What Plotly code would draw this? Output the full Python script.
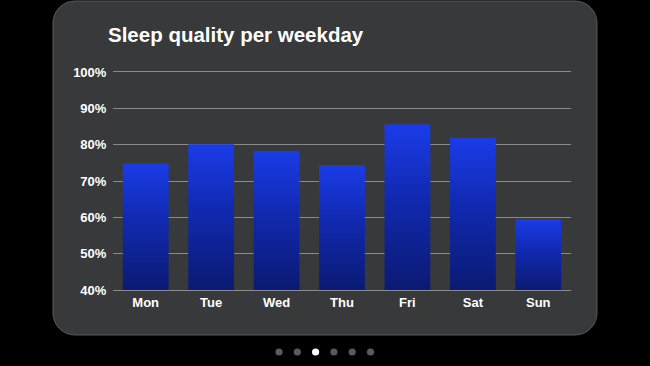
import plotly.graph_objects as go

# ---- data ----
days = ["Mon", "Tue", "Wed", "Thu", "Fri", "Sat", "Sun"]
quality = [74.8, 80.1, 78.3, 74.4, 85.6, 81.9, 59.5]
y_ticks = [40, 50, 60, 70, 80, 90, 100]
y_tick_labels = [f"{t}%" for t in y_ticks]
pages = 6
active_page = 2

# ---- layout geometry (pixels) ----
W, H = 650, 366
L, R, T, B = 113, 79, 72, 76
PW, PH = W - L - R, H - T - B

def px(x):
    return (x - L) / PW

def py(y):
    return (H - B - y) / PH

def rounded_rect(x0, y0, x1, y1, r):
    k = 0.5523 * r
    pts = [
        f"M {px(x0 + r)} {py(y0)}",
        f"L {px(x1 - r)} {py(y0)}",
        f"C {px(x1 - r + k)} {py(y0)} {px(x1)} {py(y0 + r - k)} {px(x1)} {py(y0 + r)}",
        f"L {px(x1)} {py(y1 - r)}",
        f"C {px(x1)} {py(y1 - r + k)} {px(x1 - r + k)} {py(y1)} {px(x1 - r)} {py(y1)}",
        f"L {px(x0 + r)} {py(y1)}",
        f"C {px(x0 + r - k)} {py(y1)} {px(x0)} {py(y1 - r + k)} {px(x0)} {py(y1 - r)}",
        f"L {px(x0)} {py(y0 + r)}",
        f"C {px(x0)} {py(y0 + r - k)} {px(x0 + r - k)} {py(y0)} {px(x0 + r)} {py(y0)}",
        "Z",
    ]
    return " ".join(pts)

font_family = "Liberation Sans, Arial, Helvetica, sans-serif"

fig = go.Figure()

bar_w = 0.7
base = y_ticks[0]
for i, (d, v) in enumerate(zip(days, quality)):
    fig.add_trace(go.Scatter(
        x=[i - bar_w / 2, i + bar_w / 2, i + bar_w / 2, i - bar_w / 2, i - bar_w / 2],
        y=[base, base, v, v, base],
        mode="lines",
        fill="toself",
        line=dict(width=0, color="rgba(0,0,0,0)"),
        fillgradient=dict(type="vertical",
                          colorscale=[[0, "#0a1a72"], [0.55, "#1129b0"], [1, "#1a3ce8"]]),
        name=d,
        hoverinfo="skip",
        showlegend=False,
    ))

shapes = [
    dict(type="path", xref="paper", yref="paper", layer="below",
         path=rounded_rect(53, 1, 597, 335, 22),
         fillcolor="#37393b", line=dict(color="#56585a", width=1)),
]

dot_x0, dot_dx, dot_y, dot_r = 279, 18.3, 352, 3.6
for p in range(pages):
    cx = dot_x0 + p * dot_dx
    shapes.append(dict(
        type="circle", xref="paper", yref="paper", layer="above",
        x0=px(cx - dot_r), x1=px(cx + dot_r),
        y0=py(dot_y + dot_r), y1=py(dot_y - dot_r),
        fillcolor="#ffffff" if p == active_page else "#5a5a5a",
        line=dict(width=0),
    ))

fig.update_layout(
    width=W, height=H,
    margin=dict(l=L, r=R, t=T, b=B),
    paper_bgcolor="#000000",
    plot_bgcolor="rgba(0,0,0,0)",
    shapes=shapes,
    title=dict(text="Sleep quality per weekday", xref="container", yref="container",
               x=108 / W, xanchor="left", y=1 - 35 / H, yanchor="middle",
               font=dict(family=font_family, size=20.5, color="#ffffff", weight="bold")),
    xaxis=dict(range=[-0.5, len(days) - 0.5], tickvals=list(range(len(days))),
               ticktext=days, showgrid=False, zeroline=False,
               showline=True, mirror=True, linecolor="#8a8a8a", linewidth=1,
               ticks="", fixedrange=True,
               tickfont=dict(family=font_family, size=13, color="#ffffff", weight="bold")),
    yaxis=dict(range=[y_ticks[0], y_ticks[-1]], tickvals=y_ticks, ticktext=y_tick_labels,
               showgrid=True, gridcolor="#8a8a8a", gridwidth=1, zeroline=False,
               showline=False, ticks="outside", ticklen=3, tickcolor="rgba(0,0,0,0)",
               tickfont=dict(family=font_family, size=13, color="#ffffff", weight="bold")),
)

fig.write_html("out.html")
